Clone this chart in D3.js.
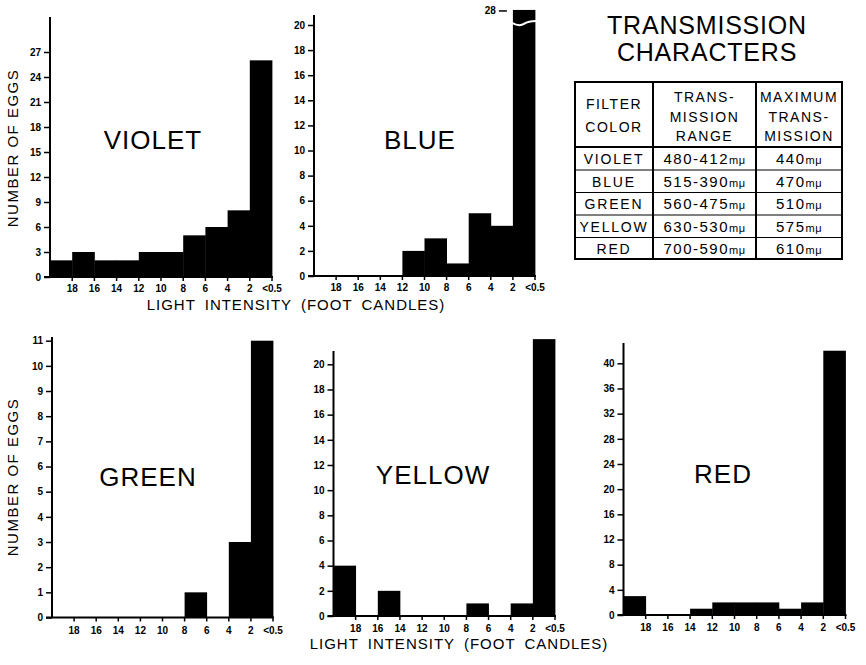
<!DOCTYPE html>
<html>
<head>
<meta charset="utf-8">
<script src="https://cdn.jsdelivr.net/npm/d3@7"></script>
<style>
  body { margin: 0; background: #fff; }
  svg { display: block; font-family: "Liberation Sans", Arial, sans-serif; }
  .tick text { font-size: 10px; font-weight: bold; fill: #000; }
  .tick line { stroke: #000; stroke-width: 1.5; }
</style>
</head>
<body>
<svg id="chart" width="866" height="665"></svg>
<script>
// Bins of light intensity (foot candles) and the labels at bin edges
const bins = ["20-18", "18-16", "16-14", "14-12", "12-10", "10-8", "8-6", "6-4", "4-2", "2-<0.5"];
const edgeLabels = ["18", "16", "14", "12", "10", "8", "6", "4", "2", "<0.5"];

// Number of eggs per bin
const violet = [2, 3, 2, 2, 3, 3, 5, 6, 8, 26];
const blue = [0, 0, 0, 0, 2, 3, 1, 5, 4, 28];
const green = [0, 0, 0, 0, 0, 0, 1, 0, 3, 11];
const yellow = [4, 0, 2, 0, 0, 0, 1, 0, 1, 22];
const red = [3, 0, 0, 1, 2, 2, 2, 1, 2, 42];

// y tick values
const violetTicks = [0, 3, 6, 9, 12, 15, 18, 21, 24, 27];
const blueTicks = [0, 2, 4, 6, 8, 10, 12, 14, 16, 18, 20];
const greenTicks = [0, 1, 2, 3, 4, 5, 6, 7, 8, 9, 10, 11];
const yellowTicks = [0, 2, 4, 6, 8, 10, 12, 14, 16, 18, 20];
const redTicks = [0, 4, 8, 12, 16, 20, 24, 28, 32, 36, 40];

// transmission table
const filterNames = ["VIOLET", "BLUE", "GREEN", "YELLOW", "RED"];
const rangeText = ["480-412", "515-390", "560-475", "630-530", "700-590"];
const maxText = ["440", "470", "510", "575", "610"];
const headers = [["FILTER", "COLOR"], ["TRANS-", "MISSION", "RANGE"], ["MAXIMUM", "TRANS-", "MISSION"]];

const svg = d3.select("#chart");

// panel layout (pixel positions only)
const panels = [
  { name: "VIOLET", values: violet, ticks: violetTicks, x0: 50, x1: 272, y0: 277, refV: 27, refY: 52, top: 17, lx: 153, ly: 149, pad: 4 },
  { name: "BLUE", values: blue, ticks: blueTicks, x0: 314, x1: 535, y0: 276, refV: 20, refY: 25, top: 15, cap: 21.2, lx: 420, ly: 149, pad: 4 },
  { name: "GREEN", values: green, ticks: greenTicks, x0: 52, x1: 273, y0: 617.5, refV: 11, refY: 340.7, top: 337, lx: 148, ly: 485.5, pad: 5 },
  { name: "YELLOW", values: yellow, ticks: yellowTicks, x0: 333.5, x1: 555, y0: 616, refV: 20, refY: 364.3, top: 351, lx: 433, ly: 483.5, pad: 5 },
  { name: "RED", values: red, ticks: redTicks, x0: 623.5, x1: 845.5, y0: 615, refV: 40, refY: 363.3, top: 343, lx: 723, ly: 482.5, pad: 5 }
];

panels.forEach(p => {
  const g = svg.append("g");

  const x = d3.scaleBand().domain(bins).range([p.x0, p.x1]).padding(0);
  const y = d3.scaleLinear().domain([0, p.refV]).range([p.y0, p.refY]);
  const shown = v => (p.cap ? Math.min(v, p.cap) : v);

  // bars
  g.selectAll("rect")
    .data(p.values.map((v, i) => ({ bin: bins[i], v: v })))
    .join("rect")
    .attr("x", d => x(d.bin))
    .attr("width", x.bandwidth() + 0.4)
    .attr("y", d => y(shown(d.v)))
    .attr("height", d => p.y0 - y(shown(d.v)))
    .attr("fill", "#000");

  // broken bar (value beyond the axis)
  if (p.cap) {
    p.values.forEach((v, i) => {
      if (v <= p.cap) return;
      const bx = x(bins[i]), bw = x.bandwidth(), by = y(p.cap) + 13;
      g.append("path")
        .attr("d", `M${bx - 1},${by} Q${bx + bw * 0.3},${by + 4} ${bx + bw * 0.5},${by + 1} T${bx + bw + 1},${by - 2}`)
        .attr("fill", "none")
        .attr("stroke", "#fff")
        .attr("stroke-width", 2);
      g.append("line")
        .attr("x1", bx - 14).attr("x2", bx - 6)
        .attr("y1", y(p.cap) + 1).attr("y2", y(p.cap) + 1)
        .attr("stroke", "#000").attr("stroke-width", 1.5);
      g.append("text")
        .attr("x", bx - 17).attr("y", y(p.cap) + 4.5)
        .attr("text-anchor", "end")
        .attr("font-size", 10).attr("font-weight", "bold")
        .text(v);
    });
  }

  // y axis
  const yAxis = g.append("g")
    .attr("transform", `translate(${p.x0},0)`)
    .call(d3.axisLeft(y).tickValues(p.ticks).tickSize(6).tickPadding(3));
  yAxis.select(".domain").remove();
  g.append("line")
    .attr("x1", p.x0).attr("x2", p.x0)
    .attr("y1", p.y0).attr("y2", p.top)
    .attr("stroke", "#000").attr("stroke-width", 2);

  // x axis: ticks at bin edges
  const xAxis = g.append("g")
    .attr("transform", `translate(0,${p.y0})`)
    .call(d3.axisBottom(x).tickSize(4).tickPadding(p.pad).tickFormat((d, i) => edgeLabels[i]));
  xAxis.select(".domain").remove();
  xAxis.selectAll(".tick").attr("transform", d => `translate(${x(d) + x.bandwidth()},0)`);
  g.append("line")
    .attr("x1", p.x0 - 6).attr("x2", p.x1 + 1)
    .attr("y1", p.y0).attr("y2", p.y0)
    .attr("stroke", "#000").attr("stroke-width", 2);

  // panel name
  g.append("text")
    .attr("x", p.lx).attr("y", p.ly)
    .attr("text-anchor", "middle")
    .attr("font-size", 26)
    .attr("letter-spacing", 1)
    .text(p.name);
});

// axis titles
[148, 477].forEach(cy => {
  svg.append("text")
    .attr("transform", `translate(17.5,${cy}) rotate(-90)`)
    .attr("text-anchor", "middle")
    .attr("font-size", 15)
    .attr("letter-spacing", 1.5)
    .text("NUMBER OF EGGS");
});
[[296, 310], [459, 649]].forEach(([cx, cy]) => {
  svg.append("text")
    .attr("x", cx).attr("y", cy)
    .attr("text-anchor", "middle")
    .attr("font-size", 15)
    .attr("letter-spacing", 1)
    .attr("word-spacing", 4)
    .text("LIGHT INTENSITY (FOOT CANDLES)");
});

// table title
svg.append("text").attr("x", 707).attr("y", 34).attr("text-anchor", "middle")
  .attr("font-size", 25).attr("letter-spacing", 0.8).text("TRANSMISSION");
svg.append("text").attr("x", 707).attr("y", 61).attr("text-anchor", "middle")
  .attr("font-size", 25).attr("letter-spacing", 0.8).text("CHARACTERS");

// table grid
const colX = [575, 653, 756, 842];
const rowY = [82, 147, 170, 192.5, 215, 237.5, 259];
const tg = svg.append("g").attr("stroke", "#000");
tg.append("rect")
  .attr("x", colX[0]).attr("y", rowY[0])
  .attr("width", colX[3] - colX[0]).attr("height", rowY[6] - rowY[0])
  .attr("fill", "none").attr("stroke-width", 2);
colX.slice(1, 3).forEach(cx => {
  tg.append("line").attr("x1", cx).attr("x2", cx).attr("y1", rowY[0]).attr("y2", rowY[6]).attr("stroke-width", 2);
});
rowY.slice(1, 6).forEach((ry, i) => {
  tg.append("line").attr("x1", colX[0]).attr("x2", colX[3]).attr("y1", ry).attr("y2", ry)
    .attr("stroke-width", i === 0 ? 2 : 1);
});

// header cells
const headerCenters = [[104, 126.5], [97, 116.5, 135.5], [97, 116.5, 135.5]];
headers.forEach((lines, c) => {
  const cx = (colX[c] + colX[c + 1]) / 2;
  lines.forEach((t, k) => {
    svg.append("text")
      .attr("x", cx).attr("y", headerCenters[c][k] + 5)
      .attr("text-anchor", "middle")
      .attr("font-size", 14)
      .attr("letter-spacing", 1.5)
      .text(t);
  });
});

// body cells
filterNames.forEach((name, r) => {
  const cy = (rowY[r + 1] + rowY[r + 2]) / 2 + 5.5;
  svg.append("text")
    .attr("x", (colX[0] + colX[1]) / 2).attr("y", cy)
    .attr("text-anchor", "middle").attr("font-size", 14).attr("letter-spacing", 1.8)
    .text(name);
  [rangeText[r], maxText[r]].forEach((val, c) => {
    const t = svg.append("text")
      .attr("x", (colX[c + 1] + colX[c + 2]) / 2).attr("y", cy)
      .attr("text-anchor", "middle").attr("font-size", 15).attr("letter-spacing", 1.5);
    t.append("tspan").text(val);
    t.append("tspan").attr("font-size", 11).attr("letter-spacing", 0.5).text("mμ");
  });
});
</script>
</body>
</html>
